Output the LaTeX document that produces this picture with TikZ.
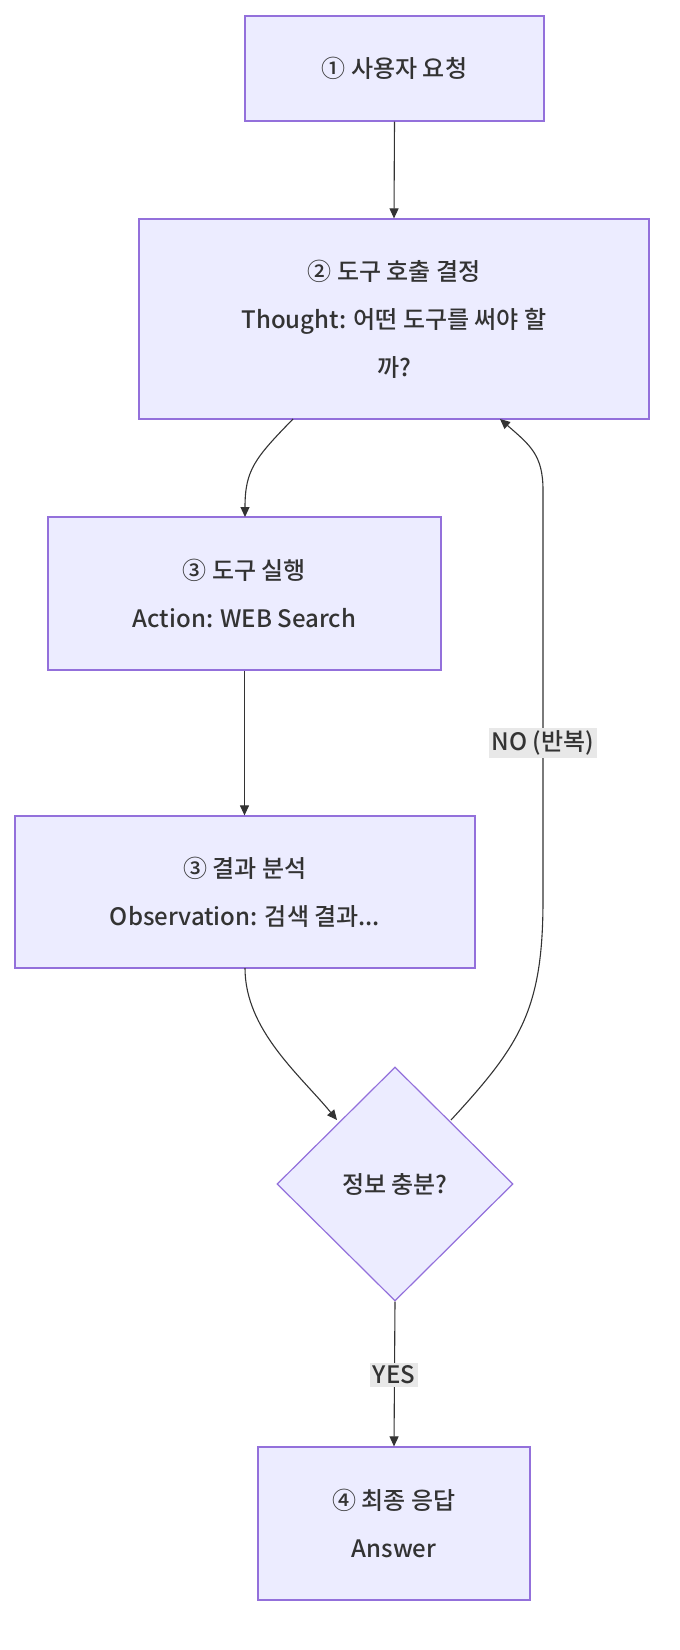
\documentclass[tikz,border=0pt]{standalone}
\usepackage{fontspec}
\setmainfont{Noto Sans CJK KR}[BoldFont={Noto Sans CJK KR Medium}]
\usetikzlibrary{arrows.meta,shapes.geometric}
\definecolor{nfill}{HTML}{ECECFF}
\definecolor{nstroke}{HTML}{9370DB}
\definecolor{ntext}{HTML}{333333}
\definecolor{lbg}{HTML}{E8E8E8}
\begin{document}
\begin{tikzpicture}[x=1pt,y=-1pt,
  every node/.style={font=\fontsize{24}{48}\selectfont\bfseries,text=ntext},
  box/.style={draw=nstroke,fill=nfill,line width=1.2pt,align=center,inner sep=0pt},
  edge/.style={draw=ntext,line width=1.1pt,-{Triangle[length=10pt,width=9pt]}},
  lbl/.style={fill=lbg,inner sep=3pt}]
\useasboundingbox (0,0) rectangle (680,1650);
\node[box,minimum width=299pt,minimum height=105pt] (a) at (394.5,68.5) {① 사용자 요청};
\node[box,minimum width=510pt,minimum height=200pt] (b) at (394,319) {② 도구 호출 결정\\Thought: 어떤 도구를 써야 할\\까?};
\node[box,minimum width=393pt,minimum height=153pt] (c) at (244.5,593.5) {③ 도구 실행\\Action: WEB Search};
\node[box,minimum width=460pt,minimum height=152pt] (d) at (245,892) {③ 결과 분석\\Observation: 검색 결과...};
\node[box,diamond,minimum width=236pt,minimum height=234pt] (e) at (395,1184) {정보 충분?};
\node[box,minimum width=272pt,minimum height=153pt] (f) at (394,1523.5) {④ 최종 응답\\Answer};
\draw[edge] (a.south) -- (b.north);
\draw[edge] (293,419) coordinate (b1) .. controls (255,458) and (245,470) .. (245,517) coordinate (c1);
\draw[edge] (c.south) -- (d.north-|c.south);
\draw[edge] (245,968) coordinate (d1) .. controls (245,1030) and (300,1075) .. (337,1120) coordinate (e1);
\draw[edge] (451,1120) coordinate (e2) .. controls (520,1045) and (543,1010) .. (543,900) -- (543,490) .. controls (543,455) and (530,445) .. (500,419) coordinate (b2);
\node[lbl] (no) at (543,743) {NO (반복)};
\draw[edge] (e.south) -- (f.north);
\node[lbl] (yes) at (394,1375) {YES};
\end{tikzpicture}
\end{document}
